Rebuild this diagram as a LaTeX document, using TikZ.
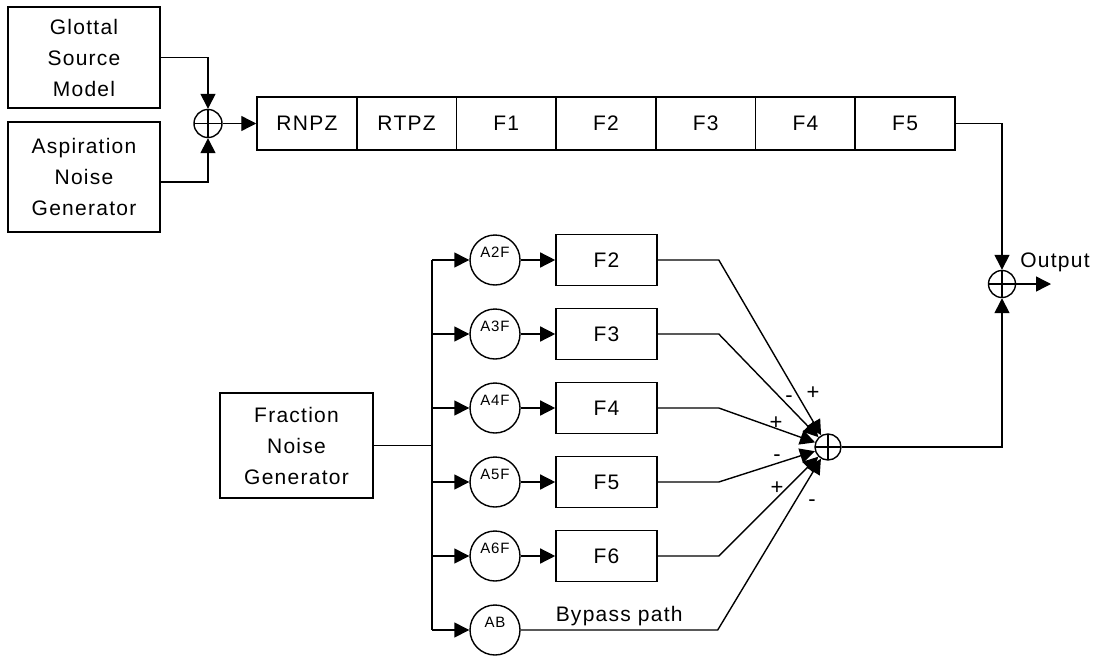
\documentclass[tikz,border=0pt]{standalone}
\usepackage{fontspec}
\setmainfont{Liberation Sans}[LetterSpace=6]
\usetikzlibrary{arrows.meta}
\begin{document}
\begin{tikzpicture}[x=1pt,y=-1pt,line width=1.4pt,
  arr/.style={-{Triangle[length=15pt,width=15pt]}},
  box/.style={draw,line width=1.6pt,inner sep=0pt,align=center,font=\fontsize{21}{31}\selectfont},
  chainbox/.style={box,minimum width=99.7pt,minimum height=53pt},
  fbox/.style={box,minimum width=101pt,minimum height=51pt},
  gain/.style={draw,circle,line width=1.4pt,minimum size=50pt,inner sep=0pt,font=\fontsize{15}{15}\selectfont},
  sum/.style={draw,circle,line width=1.4pt,inner sep=0pt,
    path picture={\draw[line width=1.2pt] (path picture bounding box.north) -- (path picture bounding box.south)
      (path picture bounding box.west) -- (path picture bounding box.east);}},
  sign/.style={font=\fontsize{22}{22}\selectfont,inner sep=0pt}]
\useasboundingbox (0,0) rectangle (1098,656);

% sources
\node[box,minimum width=152pt,minimum height=101pt] (glottal) at (84,57.5) {Glottal\\Source\\Model};
\node[box,minimum width=152pt,minimum height=110pt] (asp) at (84,177) {Aspiration\\Noise\\Generator};
\node[sum,minimum size=28pt] (insum) at (208,123.5) {};
\draw[arr] (glottal.east) -| (insum.north);
\draw[arr] ([yshift=-5pt]asp.east) -| (insum.south);

% cascade
\node[chainbox] (rnpz) at (306.9,123.5) {RNPZ};
\node[chainbox] (rtpz) at (406.6,123.5) {RTPZ};
\node[chainbox] (c1) at (506.3,123.5) {F1};
\node[chainbox] (c2) at (606.0,123.5) {F2};
\node[chainbox] (c3) at (705.7,123.5) {F3};
\node[chainbox] (c4) at (805.4,123.5) {F4};
\node[chainbox] (c5) at (905.1,123.5) {F5};
\draw[arr] (insum.east) -- (rnpz.west);

% output
\node[sum,minimum size=27pt] (outsum) at (1002,284) {};
\coordinate (outend) at (1051,284);
\node[font=\fontsize{21}{21}\selectfont,inner sep=0pt] (outlbl) at (1055,262) {Output};
\draw[arr] (c5.east) -| (outsum.north);
\draw[arr] (outsum.east) -- (outend);

% parallel branch
\node[box,minimum width=153pt,minimum height=105pt] (frac) at (296.5,445.5) {Fraction\\Noise\\Generator};
\coordinate (bus) at (432,445.5);
\draw (frac.east) -- (bus);

\node[gain] (a2) at (495,260) {\raisebox{3pt}[0pt][0pt]{A2F}};
\node[gain] (a3) at (495,334) {\raisebox{3pt}[0pt][0pt]{A3F}};
\node[gain] (a4) at (495,408) {\raisebox{3pt}[0pt][0pt]{A4F}};
\node[gain] (a5) at (495,482) {\raisebox{3pt}[0pt][0pt]{A5F}};
\node[gain] (a6) at (495,556) {\raisebox{3pt}[0pt][0pt]{A6F}};
\node[gain] (ab) at (495,630) {\raisebox{3pt}[0pt][0pt]{AB}};

\node[fbox] (f2) at (606.5,260) {F2};
\node[fbox] (f3) at (606.5,334) {F3};
\node[fbox] (f4) at (606.5,408) {F4};
\node[fbox] (f5) at (606.5,482) {F5};
\node[fbox] (f6) at (606.5,556) {F6};

\draw (a2 -| bus) -- (ab -| bus);
\foreach \n in {a2,a3,a4,a5,a6,ab} {\draw[arr] (\n -| bus) -- (\n);}
\foreach \a/\f in {a2/f2,a3/f3,a4/f4,a5/f5,a6/f6} {\draw[arr] (\a) -- (\f);}

\node[sum,minimum size=26pt] (s2) at (828,447) {};
\foreach \f in {f2,f3,f4,f5,f6} {\draw[arr] (\f.east) -- ++(61,0) -- (s2);}
\draw[arr] (ab.east) -- ++(197,0) node[midway,above,inner sep=3pt,font=\fontsize{21}{21}\selectfont] (bypass) {Bypass path} -- (s2);
\draw[arr] (s2.east) -| (outsum.south);

% signs
\node[sign] (p1) at (813,393) {+};
\node[sign] (m1) at (789,399) {-};
\node[sign] (p2) at (776,423) {+};
\node[sign] (m2) at (777,458) {-};
\node[sign] (p3) at (777,488) {+};
\node[sign] (m3) at (812,503) {-};
\end{tikzpicture}
\end{document}
